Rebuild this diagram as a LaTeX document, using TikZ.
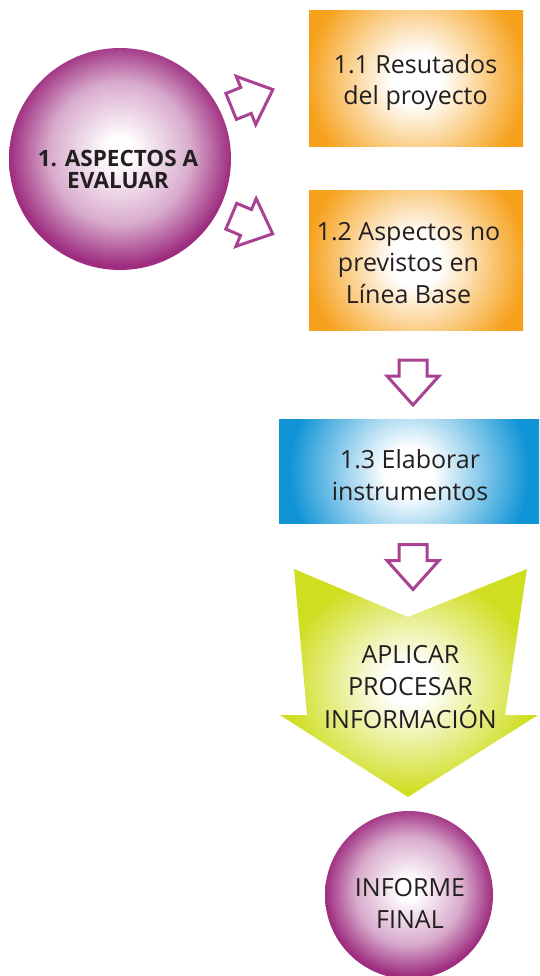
\documentclass[tikz,border=0pt]{standalone}
\usepackage{fontspec}
\setmainfont{Open Sans}
\usetikzlibrary{shapes.geometric}
\definecolor{mag}{RGB}{158,45,128}
\definecolor{org}{RGB}{246,161,28}
\definecolor{blu}{RGB}{16,148,214}
\definecolor{ygr}{RGB}{208,222,34}
\definecolor{arr}{RGB}{168,66,145}
\definecolor{txtc}{RGB}{35,31,32}
\pgfdeclareradialshading{ballshade}{\pgfpoint{0bp}{2bp}}{color(0bp)=(white); color(3bp)=(white); color(16bp)=(mag!40!white); color(25bp)=(mag); color(50bp)=(mag)}
\pgfdeclareradialshading{orgshade}{\pgfpoint{0bp}{0bp}}{color(0bp)=(white); color(4.2bp)=(white); color(18.3bp)=(org); color(50bp)=(org)}
\pgfdeclareradialshading{blushade}{\pgfpoint{0bp}{0bp}}{color(0bp)=(white); color(4bp)=(white); color(20bp)=(blu); color(50bp)=(blu)}
\pgfdeclareradialshading{ygrshade}{\pgfpoint{0bp}{0bp}}{color(0bp)=(white); color(4.5bp)=(white); color(24bp)=(ygr); color(50bp)=(ygr)}
\tikzset{
  ball/.style={circle, inner sep=0pt, draw=none, shading=ballshade},
  obox/.style={rectangle, inner sep=0pt, draw=none,
    path picture={\shade[shading=orgshade] ([shift={(-150pt,-150pt)}]path picture bounding box.center) rectangle ++(300pt,300pt);}},
  bbox/.style={rectangle, inner sep=0pt, draw=none,
    path picture={\shade[shading=blushade] ([shift={(-150pt,-150pt)}]path picture bounding box.center) rectangle ++(300pt,300pt);}},
  txt/.style={inner sep=0pt, anchor=base, text=txtc, font=\fontsize{25}{31.5}\selectfont},
  btxt/.style={inner sep=0pt, anchor=base, text=txtc, font=\bfseries\fontsize{22.5}{22}\selectfont},
  arrowline/.style={draw=arr, line width=3pt, line join=miter, fill=white},
  blockarrow/.pic={\draw[arrowline] (-22.5,-14) -- (-6.5,-14) -- (-6.5,-26) -- (22.5,0) -- (-6.5,26) -- (-6.5,14) -- (-22.5,14) -- cycle;}
}
\begin{document}
\begin{tikzpicture}[x=1pt,y=-1pt]
\useasboundingbox (0,0) rectangle (539,976);
% shapes
\node[ball, minimum size=222pt] (c1) at (120,159) {};
\node[obox, minimum width=214pt, minimum height=136pt] (b11) at (416,79) {};
\node[obox, minimum width=214pt, minimum height=139pt] (b12) at (416,260.5) {};
\node[bbox, minimum width=260pt, minimum height=104pt] (b13) at (409,471) {};
\path[shading=ygrshade] (294,569) -- (408,617) -- (527,569) -- (505,715) -- (538,715) -- (408,797) -- (280,715) -- (307,715) -- cycle;
\coordinate (chev) at (409,683);
\node[ball, minimum size=168pt] (c2) at (409,895) {};
% block arrows
\pic (a1) [rotate=22] at (252,98) {blockarrow};
\pic (a2) [rotate=-23] at (252,225) {blockarrow};
\pic (a3) [rotate=-90] at (413,382.5) {blockarrow};
\pic (a4) [rotate=-90] at (413,567) {blockarrow};
% texts
\node[btxt] (t1) at (118,189) {\begin{tabular}[b]{@{}c@{}}1. ASPECTOS A\\EVALUAR\end{tabular}};
\node[txt] (t11) at (415.5,105) {\begin{tabular}[b]{@{}c@{}}1.1 Resutados\\del proyecto\end{tabular}};
\node[txt] (t12) at (408.5,303) {\begin{tabular}[b]{@{}c@{}}1.2 Aspectos no\\previstos en\\Línea Base\end{tabular}};
\node[txt] (t13) at (410,500) {\begin{tabular}[b]{@{}c@{}}1.3 Elaborar\\instrumentos\end{tabular}};
\node[txt] (tchev) at (410.5,728) {\begin{tabular}[b]{@{}c@{}}APLICAR\\PROCESAR\\INFORMACIÓN\end{tabular}};
\node[txt] (t2) at (410,928) {\begin{tabular}[b]{@{}c@{}}INFORME\\FINAL\end{tabular}};
\end{tikzpicture}
\end{document}
